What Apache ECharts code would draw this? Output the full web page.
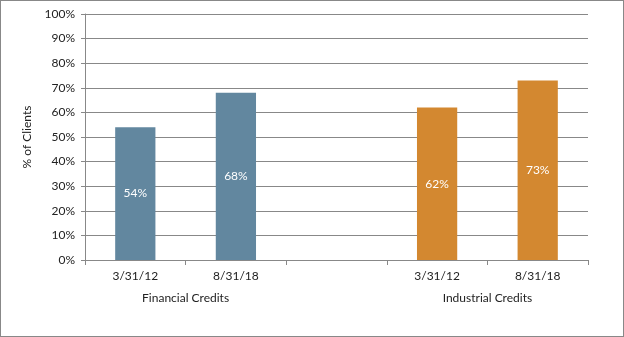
<!DOCTYPE html>
<html>
<head>
<meta charset="utf-8">
<script src="https://cdn.jsdelivr.net/npm/echarts@6/dist/echarts.min.js"></script>
<style>
html,body{margin:0;padding:0;background:#fff;}
#c{width:622px;height:335px;border:1px solid #888;}
</style>
</head>
<body>
<div id="c"></div>
<script>
var categories = ['3/31/12', '8/31/18', '', '3/31/12', '8/31/18'];
var groupLabels = ['Financial Credits', 'Industrial Credits'];
var financial = [54, 68, '-', '-', '-'];
var industrial = ['-', '-', '-', 62, 73];
var yTicks = [0, 10, 20, 30, 40, 50, 60, 70, 80, 90, 100];

var font = 'Lato, "DejaVu Sans", sans-serif';
var chart = echarts.init(document.getElementById('c'));
chart.setOption({
  animation: false,
  grid: {left: 84, right: 35, top: 13, bottom: 76},
  xAxis: [{
    type: 'category',
    data: categories,
    boundaryGap: true,
    axisLine: {lineStyle: {color: '#888', width: 1}},
    axisTick: {show: true, alignWithLabel: false, interval: 0, length: 5, lineStyle: {color: '#888'}},
    axisLabel: {interval: 0, color: '#222', fontSize: 12, fontFamily: font, margin: 10}
  }, {
    type: 'value',
    position: 'bottom',
    offset: 22,
    min: 0, max: 5, interval: 1,
    axisLine: {show: false},
    axisTick: {show: false},
    splitLine: {show: false},
    axisLabel: {
      color: '#222', fontSize: 12, fontFamily: font, margin: 10,
      formatter: function (v) { return v === 1 ? groupLabels[0] : (v === 4 ? groupLabels[1] : ''); }
    }
  }],
  yAxis: {
    type: 'value',
    min: yTicks[0], max: yTicks[yTicks.length - 1], interval: 10,
    name: '% of Clients',
    nameLocation: 'middle',
    nameGap: 48,
    nameTextStyle: {color: '#222', fontSize: 12, fontFamily: font},
    axisLine: {show: true, lineStyle: {color: '#888'}},
    axisTick: {show: true, length: 4, lineStyle: {color: '#888'}},
    splitLine: {lineStyle: {color: '#888', width: 1}},
    axisLabel: {formatter: '{value}%', color: '#222', fontSize: 12, fontFamily: font, margin: 10}
  },
  series: [{
    type: 'bar', stack: 's', barWidth: '40%', data: financial,
    itemStyle: {color: '#62879F'},
    label: {show: true, position: 'inside', formatter: '{c}%', color: '#fff', fontSize: 12, fontFamily: font}
  }, {
    type: 'bar', stack: 's', barWidth: '40%', data: industrial,
    itemStyle: {color: '#D38830'},
    label: {show: true, position: 'inside', formatter: '{c}%', color: '#fff', fontSize: 12, fontFamily: font}
  }]
});
</script>
</body>
</html>
